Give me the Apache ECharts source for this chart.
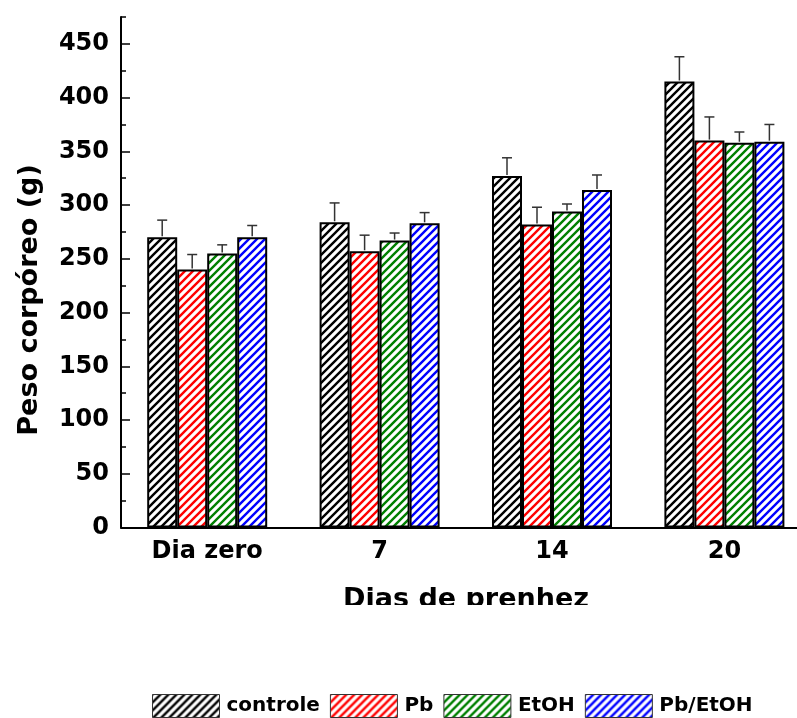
<!DOCTYPE html>
<html>
<head>
<meta charset="utf-8">
<script src="https://cdn.jsdelivr.net/npm/echarts@6/dist/echarts.min.js"></script>
<style>
  html, body { margin: 0; padding: 0; background: #ffffff; }
  #chart { width: 797px; height: 718px; }
</style>
</head>
<body>
<div id="chart"></div>
<script>
// Body weight (g) of pregnant rats per group and gestation day
const categories = ['Dia zero', '7', '14', '20'];
const seriesNames = ['controle', 'Pb', 'EtOH', 'Pb/EtOH'];

const controleMean = [270, 284, 327, 415];
const controleErr  = [16, 18, 17, 23];
const pbMean       = [240, 257, 282, 360];
const pbErr        = [14, 15, 16, 22];
const etohMean     = [255, 267, 294, 358];
const etohErr      = [8, 7, 7, 10];
const pbEtohMean   = [270, 283, 314, 359];
const pbEtohErr    = [11, 10, 14, 16];

const yTickLabels = [0, 50, 100, 150, 200, 250, 300, 350, 400, 450];

const hatchColors = ['#000000', '#ff0000', '#008000', '#0000ff'];
const means = [controleMean, pbMean, etohMean, pbEtohMean];
const errs = [controleErr, pbErr, etohErr, pbEtohErr];

const BAR_W = 30;
const FONT = '"DejaVu Sans", sans-serif';

// Diagonal hatch tile used as bar fill
function hatch(color) {
  const s = 8;
  const c = document.createElement('canvas');
  c.width = s; c.height = s;
  const g = c.getContext('2d');
  g.fillStyle = '#ffffff';
  g.fillRect(0, 0, s, s);
  g.strokeStyle = color;
  g.lineWidth = 2.4;
  g.lineCap = 'square';
  g.beginPath();
  g.moveTo(-2, 2); g.lineTo(2, -2);
  g.moveTo(0, s); g.lineTo(s, 0);
  g.moveTo(s - 2, s + 2); g.lineTo(s + 2, s - 2);
  g.stroke();
  return { image: c, repeat: 'repeat' };
}

const barSeries = seriesNames.map((name, k) => ({
  name: name,
  type: 'bar',
  barWidth: BAR_W,
  barGap: '0%',
  data: means[k],
  itemStyle: {
    color: hatch(hatchColors[k]),
    borderColor: '#000000',
    borderWidth: 2
  },
  emphasis: { disabled: true },
  z: 2
}));

// Upper error bars with a small cap, placed over each bar of the group
const errSeries = seriesNames.map((name, k) => ({
  name: name + ' sd',
  type: 'custom',
  silent: true,
  z: 3,
  data: categories.map((c, i) => [i, means[k][i], errs[k][i]]),
  encode: { x: 0, y: 1 },
  renderItem: function (params, api) {
    const base = api.coord([api.value(0), api.value(1)]);
    const top = api.coord([api.value(0), api.value(1) + api.value(2)]);
    const x = base[0] + (k - 1.5) * BAR_W;
    const st = { stroke: '#333333', lineWidth: 1.5 };
    return {
      type: 'group',
      children: [
        { type: 'line', shape: { x1: x, y1: base[1] - 1, x2: x, y2: top[1] }, style: st },
        { type: 'line', shape: { x1: x - 5, y1: top[1], x2: x + 5, y2: top[1] }, style: st }
      ]
    };
  }
}));

const chart = echarts.init(document.getElementById('chart'), null, { renderer: 'canvas' });

chart.setOption({
  backgroundColor: '#ffffff',
  animation: false,
  grid: { left: 121, width: 689.6, top: 17, height: 510.5, outerBoundsMode: 'none', containLabel: false },
  legend: {
    data: seriesNames,
    left: 152,
    top: 694,
    padding: 0,
    icon: 'rect',
    itemWidth: 67,
    itemHeight: 23,
    itemGap: 10,
    itemStyle: { borderWidth: 1, borderColor: '#333333' },
    textStyle: { fontFamily: FONT, fontWeight: 'bold', fontSize: 20, color: '#000000', padding: [0, 0, 0, 2] },
    selectedMode: false
  },
  xAxis: {
    type: 'category',
    data: categories,
    axisLine: { lineStyle: { color: '#000000', width: 2 } },
    axisTick: { show: false },
    axisLabel: { fontFamily: FONT, fontWeight: 'bold', fontSize: 24, color: '#000000', margin: 12 },
    splitLine: { show: false }
  },
  yAxis: [
    {
      type: 'value',
      min: 0,
      max: 475,
      interval: 25,
      axisLine: { show: true, lineStyle: { color: '#000000', width: 2 } },
      axisTick: { show: true, inside: true, length: 9, customValues: yTickLabels, lineStyle: { color: '#000000', width: 1.5 } },
      axisLabel: { customValues: yTickLabels, fontFamily: FONT, fontWeight: 'bold', fontSize: 24, color: '#000000', margin: 12 },
      splitLine: { show: false }
    },
    {
      type: 'value',
      min: 0,
      max: 475,
      interval: 25,
      position: 'left',
      axisLine: { show: false },
      axisTick: { show: true, inside: true, length: 5, lineStyle: { color: '#000000', width: 1.5 } },
      axisLabel: { show: false },
      splitLine: { show: false }
    }
  ],
  graphic: [
    {
      type: 'text',
      x: 30,
      y: 300,
      rotation: Math.PI / 2,
      style: {
        text: 'Peso corpóreo (g)',
        font: 'bold 27px ' + FONT,
        fill: '#000000',
        textAlign: 'center',
        textVerticalAlign: 'middle'
      }
    },
    {
      type: 'text',
      x: 466,
      y: 600,
      style: {
        text: 'Dias de prenhez',
        font: 'bold 27px ' + FONT,
        fill: '#000000',
        textAlign: 'center',
        textVerticalAlign: 'middle'
      },
      z: 10
    },
    {
      type: 'rect',
      shape: { x: 200, y: 605, width: 500, height: 40 },
      style: { fill: '#ffffff' },
      z: 11
    }
  ],
  series: barSeries.concat(errSeries)
});
</script>
</body>
</html>
